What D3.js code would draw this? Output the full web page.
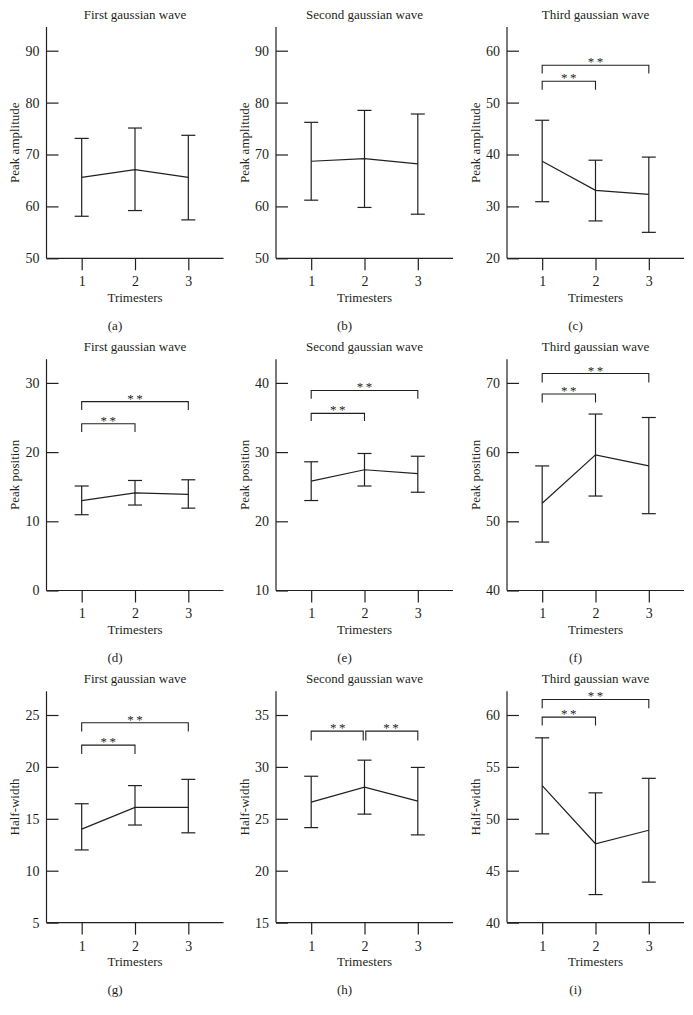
<!DOCTYPE html>
<html><head><meta charset="utf-8">
<script src="https://cdn.jsdelivr.net/npm/d3@7"></script>
<style>
body{margin:0;background:#fff;}
text{font-family:"Liberation Serif","Times New Roman",serif;fill:#231f20;}
</style></head>
<body><div id="chart"></div>
<script>
const trimesters = [1, 2, 3];
const panelLetters = ["a","b","c","d","e","f","g","h","i"];
const waveTitles = ["First gaussian wave","Second gaussian wave","Third gaussian wave"];
const rowLabels = ["Peak amplitude","Peak position","Half-width"];
const xLabel = "Trimesters";
const yTickValues = [
  [50,60,70,80,90],[50,60,70,80,90],[20,30,40,50,60],
  [0,10,20,30],[10,20,30,40],[40,50,60,70],
  [5,10,15,20,25],[15,20,25,30,35],[40,45,50,55,60]
];
const meanValues = [
  [65.6,67.1,65.6],[68.7,69.2,68.2],[38.7,33.1,32.3],
  [13.0,14.1,13.9],[25.8,27.45,26.9],[52.6,59.6,58.0],
  [14.0,16.1,16.1],[26.6,28.05,26.7],[53.2,47.6,48.9]
];
const upperValues = [
  [73.1,75.1,73.7],[76.2,78.5,77.8],[46.6,38.9,39.5],
  [15.1,15.9,16.0],[28.6,29.8,29.4],[58.0,65.5,65.0],
  [16.45,18.2,18.8],[29.1,30.65,29.95],[57.8,52.5,53.9]
];
const lowerValues = [
  [58.1,59.2,57.4],[61.2,59.8,58.5],[30.9,27.2,25.0],
  [10.95,12.35,11.9],[23.0,25.1,24.2],[47.0,53.65,51.1],
  [12.0,14.4,13.65],[24.15,25.45,23.45],[48.55,42.7,43.9]
];
// significance brackets: [from, to, bar level, end level]
const brackets = [
  [],[],
  [[1,3,57.2,55.6],[1,2,54.1,52.5]],
  [[1,3,27.3,26.1],[1,2,24.1,22.9]],
  [[1,3,38.9,37.7],[1,2,35.6,34.5]],
  [[1,3,71.35,70.05],[1,2,68.4,67.15]],
  [[1,3,24.25,23.4],[1,2,22.1,21.25]],
  [[1,2,33.45,32.55],[2,3,33.45,32.55]],
  [[1,3,61.5,60.65],[1,2,59.8,59.0]]
];
const sigMark = "**";

const W = 693, H = 1015;
const colX = [0, 229.5, 460.5];
const rowY = [0, 332.2, 664.3];
const axX0 = 46.5, axX1 = 223.5, axTop = 27, yTopTick = 50.7, yBottom = 258.3;
const ink = "#231f20";

const svg = d3.select("#chart").append("svg").attr("width", W).attr("height", H);

panelLetters.forEach((letter, i) => {
  const row = Math.floor(i / 3), col = i % 3;
  const g = svg.append("g").attr("transform", `translate(${colX[col]},${rowY[row]})`);
  const ticks = yTickValues[i];
  const x = d3.scalePoint().domain(trimesters).range([axX0, axX1]).padding(0.66);
  const y = d3.scaleLinear().domain([ticks[0], ticks[ticks.length-1]]).range([yBottom, yTopTick]);

  // title
  g.append("text").attr("x", (axX0+axX1)/2).attr("y", 19).attr("text-anchor","middle")
    .style("font-size","13px").text(waveTitles[col]);

  // y axis
  const ya = g.append("g").attr("transform", `translate(${axX0},0)`)
    .call(d3.axisLeft(y).tickValues(ticks).tickSizeInner(-12).tickSizeOuter(0).tickPadding(7).tickFormat(d3.format("d")));
  ya.select(".domain").remove();
  ya.selectAll(".tick line").attr("stroke", ink).attr("stroke-width", 1.2);
  ya.selectAll(".tick text").style("font-size","14px").style("font-family","Liberation Serif").attr("fill", ink);
  g.append("line").attr("x1",axX0).attr("x2",axX0).attr("y1",axTop).attr("y2",yBottom)
    .attr("stroke",ink).attr("stroke-width",1.2);

  // x axis
  const xa = g.append("g").attr("transform", `translate(0,${yBottom})`)
    .call(d3.axisBottom(x).tickSizeInner(12).tickSizeOuter(0).tickPadding(6));
  xa.select(".domain").remove();
  xa.selectAll(".tick line").attr("stroke", ink).attr("stroke-width", 1.2);
  xa.selectAll(".tick text").style("font-size","14px").style("font-family","Liberation Serif").attr("fill", ink);
  g.append("line").attr("x1",axX0).attr("x2",axX1).attr("y1",yBottom).attr("y2",yBottom)
    .attr("stroke",ink).attr("stroke-width",1.2);

  // labels
  g.append("text").attr("x",(axX0+axX1)/2).attr("y",302).attr("text-anchor","middle")
    .style("font-size","13px").text(xLabel);
  g.append("text").attr("transform",`translate(19,${(axTop+yBottom)/2}) rotate(-90)`)
    .attr("text-anchor","middle").style("font-size","13px").text(rowLabels[row]);
  g.append("text").attr("x",115).attr("y",330).attr("text-anchor","middle")
    .style("font-size","13px").text(`(${letter})`);

  // error bars
  const capHalf = 7;
  trimesters.forEach((t, k) => {
    const cx = x(t);
    g.append("line").attr("x1",cx).attr("x2",cx).attr("y1",y(lowerValues[i][k])).attr("y2",y(upperValues[i][k]))
      .attr("stroke",ink).attr("stroke-width",1.2);
    [upperValues[i][k], lowerValues[i][k]].forEach(v => {
      g.append("line").attr("x1",cx-capHalf).attr("x2",cx+capHalf).attr("y1",y(v)).attr("y2",y(v))
        .attr("stroke",ink).attr("stroke-width",1.2);
    });
  });
  // mean line
  g.append("path").datum(meanValues[i])
    .attr("d", d3.line().x((d,k)=>x(trimesters[k])).y(d=>y(d)))
    .attr("fill","none").attr("stroke",ink).attr("stroke-width",1.2);

  // brackets
  brackets[i].forEach(b => {
    const [a, c, lvl, end] = b;
    const inset = (i === 7) ? 1.3 : 0;
    const xa1 = x(a) + (a === 2 ? inset : 0), xc1 = x(c) - (c === 2 ? inset : 0);
    g.append("path")
      .attr("d", `M${xa1},${y(end)}V${y(lvl)}H${xc1}V${y(end)}`)
      .attr("fill","none").attr("stroke",ink).attr("stroke-width",1.1);
    g.append("text").attr("x",(x(a)+x(c))/2 + 1.2).attr("y",y(lvl)+1).attr("text-anchor","middle")
      .style("font-size","13px").style("letter-spacing","2.5px").text(sigMark);
  });
});
</script>
</body></html>
